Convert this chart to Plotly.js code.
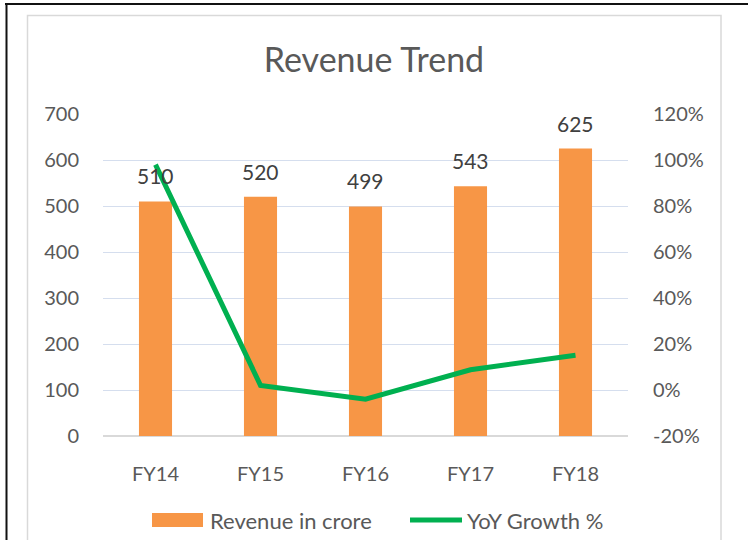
<!DOCTYPE html>
<html>
<head>
<meta charset="utf-8">
<script src="https://cdn.plot.ly/plotly-3.0.1.min.js"></script>
<style>html,body{margin:0;padding:0;background:#fff;}#chart{width:748px;height:540px;}</style>
</head>
<body>
<div id="chart"></div>
<script>
const categories = ["FY14", "FY15", "FY16", "FY17", "FY18"];
const revenue = [510, 520, 499, 543, 625];
const growth = [0.98, 0.02, -0.04, 0.088, 0.151];
const growthTickVals = [-0.2, 0, 0.2, 0.4, 0.6, 0.8, 1.0, 1.2];
const growthTickText = ["-20%", "0%", "20%", "40%", "60%", "80%", "100%", "120%"];
const revenueName = "Revenue in crore";
const growthName = "YoY Growth %";
const chartTitle = "Revenue Trend";

const W = 748, H = 540;
const ml = 103, mr = 120, mt = 114, mb = 104;
const pw = W - ml - mr, ph = H - mt - mb;
const px = v => (v - ml) / pw;
const py = v => (H - mb - v) / ph;

const FONT = "Lato, 'Open Sans', sans-serif";
const orange = "#F79646";
const green = "#00B050";

const traces = [
  {
    type: "bar", x: categories, y: revenue, name: revenueName,
    marker: {color: orange}, width: 0.315, yaxis: "y", showlegend: false,
    hoverinfo: "x+y"
  },
  {
    type: "scatter", mode: "lines", x: categories, y: growth, name: growthName,
    line: {color: green, width: 5}, yaxis: "y2", showlegend: false
  }
];

const annotations = categories.map((c, i) => ({
  x: c, y: revenue[i], xref: "x", yref: "y", text: String(revenue[i]),
  showarrow: false, yanchor: "bottom", yshift: 11,
  font: {family: FONT, size: 21, color: "#404040"}
}));
annotations.push(
  {xref: "paper", yref: "paper", x: px(208), y: py(520), xanchor: "left", yanchor: "middle",
   text: revenueName, showarrow: false, font: {family: FONT, size: 22, color: "#595959"}},
  {xref: "paper", yref: "paper", x: px(465), y: py(520), xanchor: "left", yanchor: "middle",
   text: growthName, showarrow: false, font: {family: FONT, size: 22, color: "#595959"}}
);

const shapes = [
  {type: "rect", xref: "paper", yref: "paper", x0: px(152), x1: px(203), y0: py(513), y1: py(527),
   fillcolor: orange, line: {width: 0}},
  {type: "line", xref: "paper", yref: "paper", x0: px(410), x1: px(462), y0: py(520), y1: py(520),
   line: {color: green, width: 5}},
  {type: "rect", xref: "paper", yref: "paper", x0: px(27.5), x1: px(721), y0: py(15.5), y1: py(560),
   line: {color: "#D9D9D9", width: 1.5}, fillcolor: "rgba(0,0,0,0)"},
  {type: "line", xref: "paper", yref: "paper", x0: px(5), x1: px(760), y0: py(4), y1: py(4),
   line: {color: "#111", width: 2}},
  {type: "line", xref: "paper", yref: "paper", x0: px(6.5), x1: px(6.5), y0: py(3), y1: py(560),
   line: {color: "#111", width: 2}}
];

const layout = {
  width: W, height: H,
  margin: {l: ml, r: mr, t: mt, b: mb, pad: 0},
  paper_bgcolor: "#fff", plot_bgcolor: "#fff",
  font: {family: FONT, color: "#595959"},
  title: {text: chartTitle, x: 0.5, xref: "container", xanchor: "center",
          y: 1 - 60 / H, yref: "container", yanchor: "middle",
          font: {family: FONT, size: 34, color: "#595959"}},
  xaxis: {
    type: "category", showgrid: false, zeroline: false, showline: false,
    ticks: "outside", ticklen: 20, tickcolor: "rgba(0,0,0,0)",
    tickfont: {family: FONT, size: 20, color: "#595959"}
  },
  yaxis: {
    range: [0, 700], dtick: 100, showgrid: true, gridcolor: "#D5DEEE", gridwidth: 1,
    zeroline: true, zerolinecolor: "#D9D9D9", zerolinewidth: 1.5, showline: false,
    ticks: "outside", ticklen: 19, tickcolor: "rgba(0,0,0,0)",
    tickfont: {family: FONT, size: 20, color: "#595959"}
  },
  yaxis2: {
    overlaying: "y", side: "right", range: [-0.2, 1.2],
    tickmode: "array", tickvals: growthTickVals, ticktext: growthTickText,
    showgrid: false, zeroline: false, showline: false,
    ticks: "outside", ticklen: 20, tickcolor: "rgba(0,0,0,0)",
    tickfont: {family: FONT, size: 20, color: "#595959"}
  },
  annotations: annotations,
  shapes: shapes,
  showlegend: false
};

Plotly.newPlot("chart", traces, layout, {displayModeBar: false, staticPlot: true});
</script>
</body>
</html>
